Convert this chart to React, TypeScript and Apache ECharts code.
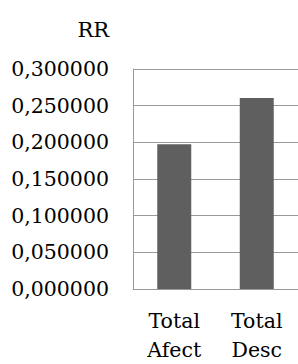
import React, { useEffect, useRef } from "react";
import * as echarts from "echarts";

const categories = ["Total\nAfect", "Total\nDesc"];
const values = [0.1975, 0.2605];
const yTicks = { min: 0, max: 0.3, interval: 0.05 };
const axisName = "RR";

export default function App() {
  const ref = useRef<HTMLDivElement>(null);
  useEffect(() => {
    document.body.style.margin = "0";
    const chart = echarts.init(ref.current!, null, { renderer: "svg" });
    const font = "DejaVu Serif";
    chart.setOption({
      animation: false,
      backgroundColor: "#ffffff",
      textStyle: { fontFamily: font },
      grid: { left: 133, top: 69, width: 170, bottom: 72, containLabel: false },
      xAxis: {
        type: "category",
        data: categories,
        axisLine: { show: true, lineStyle: { color: "#999999", width: 1 } },
        axisTick: { show: false },
        axisLabel: {
          color: "#000000",
          fontFamily: font,
          fontSize: 20.5,
          lineHeight: 29,
          margin: 17,
          interval: 0,
        },
      },
      yAxis: {
        type: "value",
        min: yTicks.min,
        max: yTicks.max,
        interval: yTicks.interval,
        name: axisName,
        nameLocation: "end",
        nameGap: 29,
        nameTextStyle: {
          color: "#000000",
          fontFamily: font,
          fontSize: 21,
          align: "right",
          verticalAlign: "bottom",
          padding: [0, 24, 0, 0],
        },
        axisLine: { show: true, lineStyle: { color: "#999999", width: 1 } },
        axisTick: { show: false },
        splitLine: { show: true, lineStyle: { color: "#999999", width: 1 } },
        axisLabel: {
          color: "#000000",
          fontFamily: font,
          fontSize: 20.5,
          margin: 24,
          formatter: (v: number) => v.toFixed(6).replace(".", ","),
        },
      },
      series: [
        {
          type: "bar",
          data: values,
          barWidth: 34,
          itemStyle: { color: "#5f5f5f" },
        },
      ],
    });
    return () => chart.dispose();
  }, []);
  return <div ref={ref} style={{ width: 298, height: 364 }} />;
}
